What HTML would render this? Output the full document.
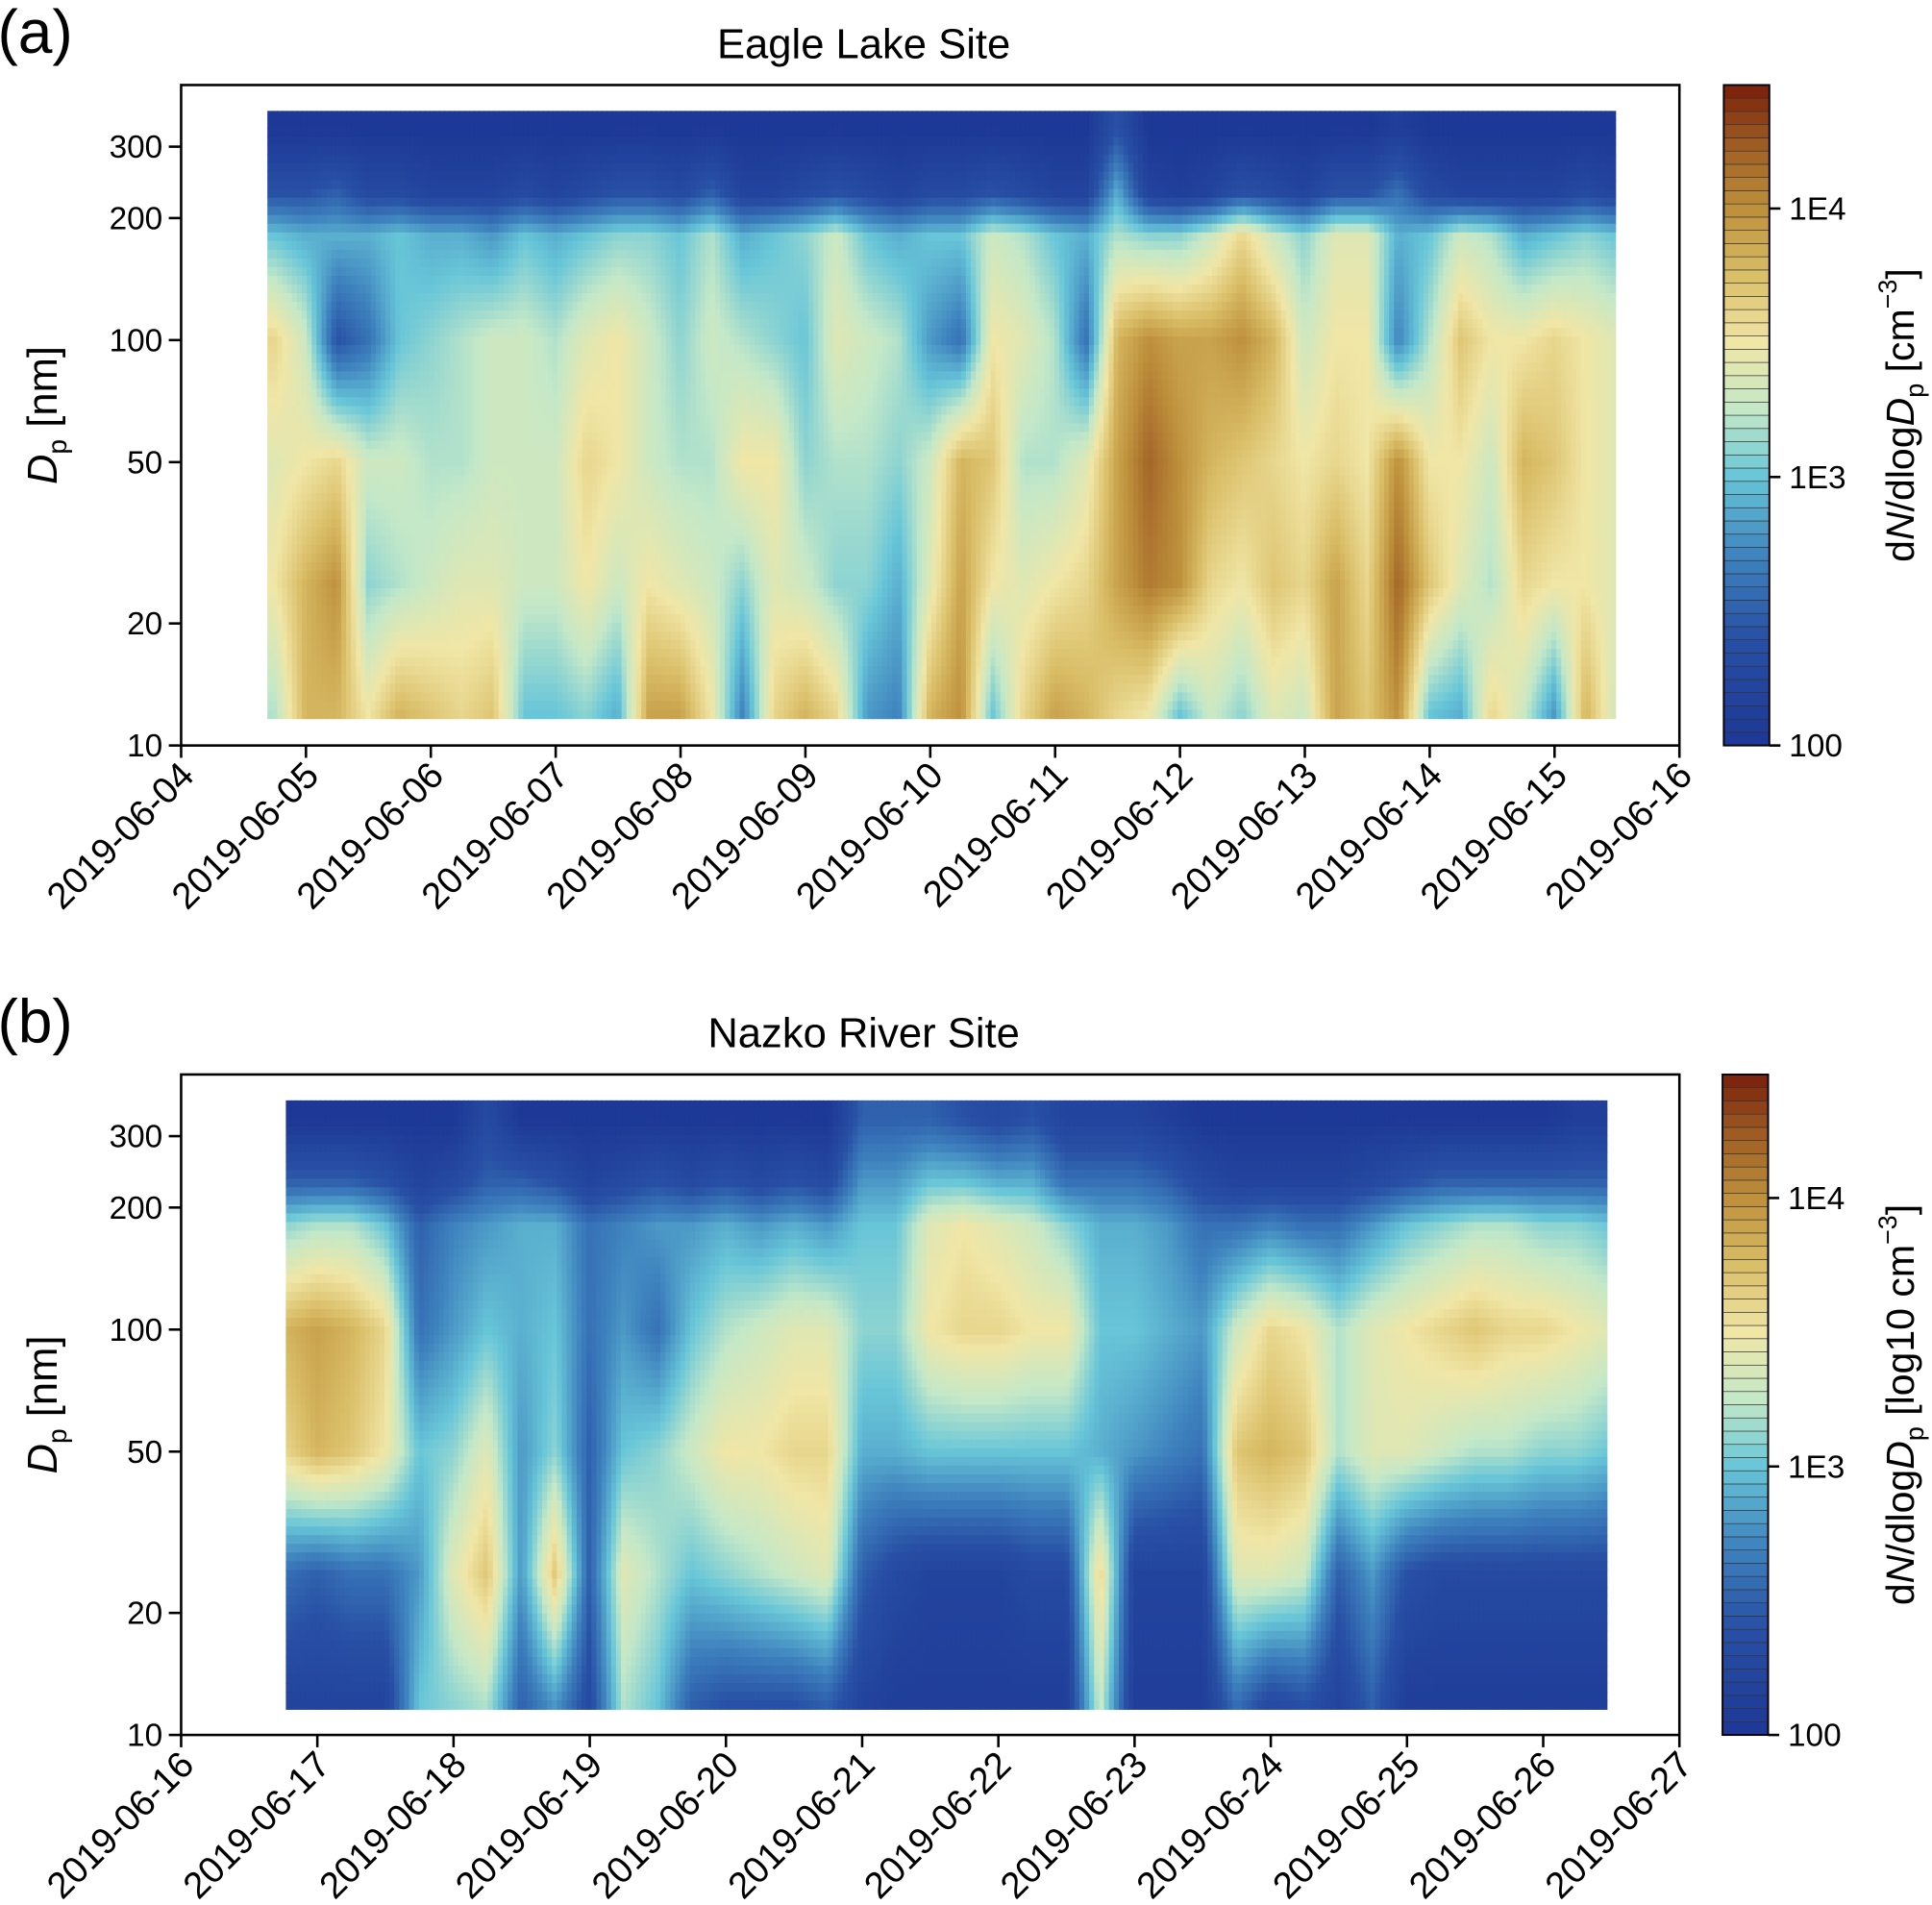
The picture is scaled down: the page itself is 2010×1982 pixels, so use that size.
<!DOCTYPE html>
<html><head><meta charset="utf-8"><style>
html,body{margin:0;padding:0;background:#fff}
svg{display:block}
text{font-family:"Liberation Sans",Arial,sans-serif;fill:#000}
</style></head><body>
<svg id="fig" width="2010" height="1982" viewBox="0 0 1568 1546" preserveAspectRatio="none" xmlns="http://www.w3.org/2000/svg"></svg>
<script>
// ---- data ----
const diamRows = [12, 25, 50, 100, 180, 230, 330];
const daysA = [0.75,1,1.25,1.5,1.75,2,2.25,2.5,2.75,3,3.25,3.5,3.75,4,4.25,4.5,4.75,5,5.25,5.5,5.75,6,6.25,6.5,6.75,7,7.25,7.5,7.75,8,8.25,8.5,8.75,9,9.25,9.5,9.75,10,10.25,10.5,10.75,11,11.25,11.5];
const a12 = [3.2,3.8,3.8,3.5,3.8,3.7,3.6,3.7,3.0,3.0,3.1,2.9,3.9,3.9,3.5,2.7,3.6,3.8,3.6,2.8,2.7,3.8,4.0,3.0,3.6,3.9,3.8,3.6,3.5,3.0,3.3,3.1,3.4,3.3,3.9,3.7,4.0,3.0,2.9,3.6,3.3,2.8,3.8,3.3];
const a25 = [3.5,3.8,4.0,3.1,3.2,3.3,3.4,3.4,3.3,3.3,3.5,3.3,3.5,3.4,3.3,3.1,3.4,3.3,3.1,3.1,2.9,3.4,3.9,3.5,3.4,3.5,3.6,3.9,4.1,4.0,3.6,3.5,3.7,3.6,3.9,3.6,4.2,3.7,3.4,3.2,3.6,3.5,3.5,3.4];
const a50 = [3.4,3.5,3.6,3.3,3.3,3.2,3.2,3.3,3.3,3.3,3.6,3.5,3.3,3.2,3.2,3.5,3.5,3.1,3.2,3.2,3.1,3.3,3.8,3.7,3.2,3.2,3.4,3.9,4.2,4.0,3.8,3.7,3.6,3.5,3.6,3.5,4.0,3.5,3.5,3.3,3.8,3.7,3.5,3.4];
const a100 = [3.6,3.3,2.4,2.6,3.0,3.1,3.2,3.3,3.3,3.2,3.4,3.5,3.3,3.1,3.3,3.2,3.1,3.0,3.4,3.3,3.2,2.8,2.6,3.5,3.4,3.2,2.6,3.8,4.0,3.9,3.9,4.0,3.8,3.3,3.5,3.5,2.7,3.2,3.7,3.5,3.5,3.6,3.5,3.4];
const a180 = [3.0,2.9,2.9,2.9,3.0,2.9,2.9,2.8,3.0,2.9,3.0,3.1,3.1,3.0,3.2,2.9,3.0,3.1,3.3,3.0,2.9,3.0,3.0,3.3,3.2,3.0,2.9,3.2,3.1,3.1,3.3,3.6,3.3,3.1,3.4,3.4,2.9,3.0,3.3,3.2,2.9,3.0,3.1,3.0];
const a230 = [2.4,2.4,2.5,2.3,2.3,2.2,2.2,2.2,2.3,2.2,2.3,2.4,2.4,2.3,2.5,2.2,2.2,2.3,2.4,2.3,2.2,2.3,2.3,2.4,2.3,2.2,2.2,2.9,2.2,2.1,2.2,2.4,2.3,2.2,2.4,2.4,2.6,2.3,2.2,2.2,2.2,2.2,2.3,2.2];
const a330 = [2.0,2.0,2.0,2.0,2.0,2.0,2.0,2.0,2.0,2.0,2.0,2.0,2.0,2.0,2.0,2.0,2.0,2.0,2.0,2.0,2.0,2.0,2.0,2.0,2.0,2.0,2.0,2.4,2.0,2.0,2.0,2.0,2.0,2.0,2.0,2.0,2.1,2.0,2.0,2.0,2.0,2.0,2.0,2.0];
const daysB = [0.75,1,1.25,1.5,1.75,2,2.25,2.5,2.75,3,3.25,3.5,3.75,4,4.25,4.5,4.75,5,5.25,5.5,5.75,6,6.25,6.5,6.75,7,7.25,7.5,7.75,8,8.25,8.5,8.75,9,9.25,9.5,9.75,10,10.25,10.5];
const b12 = [2.2,2.2,2.2,2.2,3.0,3.1,3.2,2.5,2.8,2.3,3.2,3.0,2.5,2.4,2.4,2.4,2.5,2.2,2.1,2.1,2.1,2.1,2.1,2.1,3.3,2.1,2.1,2.1,2.6,2.3,2.4,2.2,2.5,2.1,2.1,2.1,2.1,2.1,2.1,2.1];
const b25 = [2.6,2.5,2.6,2.6,2.8,3.4,3.7,2.8,3.7,2.5,3.4,3.2,3.0,3.1,3.2,3.3,3.4,2.5,2.3,2.2,2.2,2.2,2.3,2.3,3.6,2.2,2.2,2.2,3.4,3.4,3.3,2.5,2.8,2.4,2.3,2.3,2.3,2.3,2.3,2.3];
const b50 = [3.6,3.8,3.7,3.5,3.0,3.1,3.4,2.8,3.1,2.5,3.0,3.1,3.3,3.5,3.5,3.6,3.6,2.9,2.9,3.0,3.0,3.0,3.0,3.0,2.9,2.8,2.7,2.6,3.7,3.8,3.7,3.2,3.4,3.4,3.3,3.2,3.2,3.1,3.1,3.0];
const b100 = [3.8,3.9,3.8,3.6,2.6,2.8,3.0,2.9,3.0,2.6,2.8,2.6,3.0,3.2,3.3,3.4,3.4,3.1,3.1,3.5,3.6,3.6,3.5,3.5,3.0,3.0,2.9,2.8,3.3,3.6,3.5,3.2,3.4,3.5,3.6,3.7,3.6,3.6,3.5,3.4];
const b180 = [3.1,3.2,3.2,3.0,2.5,2.7,2.8,2.9,2.9,2.6,2.7,2.8,2.8,2.9,2.8,2.9,2.8,3.0,3.0,3.4,3.5,3.4,3.3,3.1,2.9,2.9,2.8,2.6,2.6,2.7,2.6,2.6,2.8,3.0,3.1,3.2,3.2,3.1,3.1,3.0];
const b230 = [2.5,2.5,2.5,2.4,2.2,2.3,2.5,2.5,2.4,2.2,2.3,2.4,2.3,2.4,2.3,2.4,2.3,2.8,2.8,3.0,3.0,2.9,2.9,2.6,2.6,2.6,2.5,2.3,2.2,2.2,2.2,2.2,2.3,2.4,2.5,2.5,2.5,2.5,2.5,2.5];
const b330 = [2.0,2.0,2.0,2.0,2.0,2.0,2.3,2.0,2.0,2.0,2.0,2.0,2.0,2.0,2.0,2.0,2.0,2.5,2.5,2.5,2.4,2.3,2.4,2.2,2.2,2.2,2.1,2.0,2.0,2.0,2.0,2.0,2.0,2.0,2.0,2.0,2.0,2.0,2.1,2.1];
const yTicks = [10, 20, 50, 100, 200, 300];
const datesA = ["2019-06-04","2019-06-05","2019-06-06","2019-06-07","2019-06-08","2019-06-09","2019-06-10","2019-06-11","2019-06-12","2019-06-13","2019-06-14","2019-06-15","2019-06-16"];
const datesB = ["2019-06-16","2019-06-17","2019-06-18","2019-06-19","2019-06-20","2019-06-21","2019-06-22","2019-06-23","2019-06-24","2019-06-25","2019-06-26","2019-06-27"];
const cbTicks = [2, 3, 4];
const cbTickLabels = ["100", "1E3", "1E4"];

// ---- rendering ----
const NS = "http://www.w3.org/2000/svg";
const svg = document.getElementById("fig");
function mk(tag, attrs, parent) {
  const e = document.createElementNS(NS, tag);
  for (const k in attrs) e.setAttribute(k, attrs[k]);
  (parent || svg).appendChild(e);
  return e;
}
const stops = [[2.0,[29,56,150]],[2.4,[40,80,165]],[2.7,[62,130,190]],[3.0,[104,198,216]],[3.25,[196,232,200]],[3.5,[240,230,166]],[3.75,[218,190,104]],[4.0,[190,144,60]],[4.25,[156,90,34]],[4.46,[122,30,10]]];
function cmap(v) {
  if (v <= stops[0][0]) return "rgb(" + stops[0][1] + ")";
  for (let i = 1; i < stops.length; i++) {
    if (v <= stops[i][0]) {
      const t = (v - stops[i-1][0]) / (stops[i][0] - stops[i-1][0]);
      const c = stops[i-1][1].map((a, j) => Math.round(a + (stops[i][1][j] - a) * t));
      return "rgb(" + c + ")";
    }
  }
  return "rgb(" + stops[stops.length-1][1] + ")";
}
function interp(xs, ys, x) {
  if (x <= xs[0]) return ys[0];
  if (x >= xs[xs.length-1]) return ys[ys.length-1];
  for (let i = 1; i < xs.length; i++) if (x <= xs[i]) {
    const t = (x - xs[i-1]) / (xs[i] - xs[i-1]);
    return ys[i-1] + (ys[i] - ys[i-1]) * t;
  }
}

function panel(cfg) {
  const g = mk("g", {});
  
  
  const {bx0, bx1, by0, by1, nDays} = cfg;
  const xs = d => bx0 + (bx1 - bx0) * d / nDays;
  const ys = D => by1 - (Math.log10(D) - 1) * cfg.pxDec;
  const logRows = diamRows.map(Math.log10);
  const hm = mk("g", {}, g);
  
  
  const x0 = cfg.dx0, x1 = cfg.dx1, yT = cfg.dyTop, yB = cfg.dyBot;
  const nx = Math.round((x1 - x0) / 4), ny = 70;
  const cols = cfg.rows;
  for (let i = 0; i < nx; i++) {
    const px = x0 + (x1 - x0) * i / nx, pw = (x1 - x0) / nx + 0.6;
    const d = (px + pw/2 - bx0) / (bx1 - bx0) * nDays;
    const colVals = cols.map(r => interp(cfg.days, r, d));
    for (let j = 0; j < ny; j++) {
      const py = yT + (yB - yT) * j / ny, ph = (yB - yT) / ny + 0.6;
      const lD = 1 + (by1 - (py + ph/2)) / cfg.pxDec;
      const v = interp(logRows, colVals, lD);
      const r = mk("rect", {x: px.toFixed(2), y: py.toFixed(2), width: pw.toFixed(2), height: ph.toFixed(2), fill: cmap(v)}, hm);
      
      
    }
  }
  const box = mk("rect", {x: bx0, y: by0, width: bx1 - bx0, height: by1 - by0, fill: "none", stroke: "#000", "stroke-width": 2}, g);
  
  
  yTicks.forEach(t => {
    const y = ys(t);
    const l = mk("line", {x1: bx0 - 10, x2: bx0, y1: y, y2: y, stroke: "#000", "stroke-width": 2}, g);
    
    
    const tx = mk("text", {x: bx0 - 15, y: y + 9, "text-anchor": "end", "font-size": 26}, g);
    tx.textContent = t;
    
    
  });
  cfg.dates.forEach((s, i) => {
    const x = xs(i);
    const l = mk("line", {x1: x, x2: x, y1: by1, y2: by1 + 10, stroke: "#000", "stroke-width": 2}, g);
    
    
    const tx = mk("text", {x: x + 12, y: by1 + 26, "text-anchor": "end", "font-size": 30, transform: `rotate(-45 ${x + 12} ${by1 + 26})`}, g);
    tx.textContent = s;
    
    
  });
  const ti = mk("text", {x: 701, y: by0 - 22, "text-anchor": "middle", "font-size": 34}, g);
  ti.textContent = cfg.title;
  
  
  const pl = mk("text", {x: -2, y: by0 - 26, "font-size": 50}, g);
  pl.textContent = cfg.label;
  
  
  const yc = (by0 + by1) / 2;
  const yl = mk("text", {x: 46, y: yc, "text-anchor": "middle", "font-size": 34, transform: `rotate(-90 46 ${yc})`}, g);
  yl.innerHTML = '<tspan font-style="italic">D</tspan><tspan font-size="22" dy="8">p</tspan><tspan dy="-8"> [nm]</tspan>';
  
  
  const cb = mk("g", {}, g);
  
  
  const cx0 = cfg.cbx, cw = 37, vMax = 4.46;
  const cy = v => by1 - (v - 2) / (vMax - 2) * (by1 - by0);
  const nb = 50;
  for (let k = 0; k < nb; k++) {
    const v0 = 2 + (vMax - 2) * k / nb, v1 = 2 + (vMax - 2) * (k + 1) / nb;
    const r = mk("rect", {x: cx0, y: cy(v1), width: cw, height: cy(v0) - cy(v1), fill: cmap((v0 + v1) / 2), stroke: "#333", "stroke-width": 0.5}, cb);
    
    
  }
  const cf = mk("rect", {x: cx0, y: by0, width: cw, height: by1 - by0, fill: "none", stroke: "#000", "stroke-width": 1.5}, cb);
  
  
  cbTicks.forEach((v, i) => {
    const y = cy(v);
    const l = mk("line", {x1: cx0 + cw, x2: cx0 + cw + 9, y1: y, y2: y, stroke: "#000", "stroke-width": 2}, cb);
    
    
    const tx = mk("text", {x: cx0 + cw + 16, y: y + 9, "font-size": 26}, cb);
    tx.textContent = cbTickLabels[i];
    
    
  });
  const lx = 1553;
  const cl = mk("text", {x: lx, y: yc, "text-anchor": "middle", "font-size": 32, transform: `rotate(-90 ${lx} ${yc})`}, cb);
  cl.innerHTML = cfg.cbLabel;
  
  
}

panel({name: "panel-a-eagle-lake", title: "Eagle Lake Site", label: "(a)", bx0: 147, bx1: 1363, by0: 69, by1: 605, nDays: 12, pxDec: 329,
  dx0: 217, dx1: 1311, dyTop: 90, dyBot: 583, days: daysA, rows: [a12, a25, a50, a100, a180, a230, a330], dates: datesA, cbx: 1399,
  cbLabel: 'd<tspan font-style="italic">N</tspan>/dlog<tspan font-style="italic">D</tspan><tspan font-size="21" dy="8">p</tspan><tspan dy="-8"> [cm</tspan><tspan font-size="21" dy="-14">−3</tspan><tspan dy="14">]</tspan>'});
panel({name: "panel-b-nazko-river", title: "Nazko River Site", label: "(b)", bx0: 147, bx1: 1363, by0: 872, by1: 1408, nDays: 11, pxDec: 329,
  dx0: 232, dx1: 1304, dyTop: 893, dyBot: 1387, days: daysB, rows: [b12, b25, b50, b100, b180, b230, b330], dates: datesB, cbx: 1398,
  cbLabel: 'd<tspan font-style="italic">N</tspan>/dlog<tspan font-style="italic">D</tspan><tspan font-size="21" dy="8">p</tspan><tspan dy="-8"> [log10 cm</tspan><tspan font-size="21" dy="-14">−3</tspan><tspan dy="14">]</tspan>'});
</script>
</body></html>
